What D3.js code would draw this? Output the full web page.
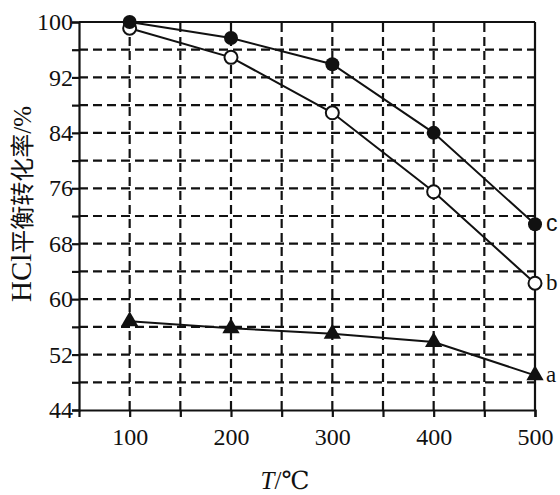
<!DOCTYPE html>
<html><head><meta charset="utf-8">
<script src="https://cdn.jsdelivr.net/npm/d3@7"></script>
<style>body{margin:0;background:#fff}svg{display:block}</style>
</head><body><svg id="c" width="560" height="495"></svg>
<script>
const temps = [100, 200, 300, 400, 500];
const seriesA = [56.8, 55.8, 55.0, 53.8, 49.0];
const seriesB = [99.1, 94.9, 86.9, 75.5, 62.3];
const seriesC = [100.0, 97.7, 93.9, 84.0, 70.8];
const seriesNames = ["a", "b", "c"];
const yTickLabels = [44, 52, 60, 68, 76, 84, 92, 100];
const yGrid = [48, 52, 56, 60, 64, 68, 72, 76, 80, 84, 88, 92, 96];
const xTickLabels = [100, 200, 300, 400, 500];
const xGrid = [100, 150, 200, 250, 300, 350, 400, 450];
const yTitleParts = ["HCl", "平衡转化率", "/%"];

const svg = d3.select("#c");
const L = 79, R = 535, T = 22, B = 410;
const x = d3.scaleLinear().domain([50, 500]).range([L, R]);
const y = d3.scaleLinear().domain([44, 100]).range([B, T]);
const serif = "'Liberation Serif','DejaVu Serif',serif";

// grid
svg.append("g").selectAll("line").data(yGrid).join("line")
  .attr("x1", L).attr("x2", R).attr("y1", d => y(d)).attr("y2", d => y(d))
  .attr("stroke", "#111").attr("stroke-width", 2.2).attr("stroke-dasharray", "9,5");
svg.append("g").selectAll("line").data(xGrid).join("line")
  .attr("y1", B).attr("y2", T).attr("x1", d => x(d)).attr("x2", d => x(d))
  .attr("stroke", "#111").attr("stroke-width", 2.2).attr("stroke-dasharray", "9,5");

// axes
const xAxis = d3.axisBottom(x).tickValues([...xGrid, 500]).tickSize(7)
  .tickFormat(d => xTickLabels.includes(d) ? d : "");
const gx = svg.append("g").attr("transform", `translate(0,${B})`).call(xAxis);
gx.select(".domain").attr("stroke-width", 2.2).attr("stroke", "#111");
gx.selectAll(".tick line").attr("stroke-width", 2.2).attr("stroke", "#111");
gx.selectAll("text").attr("font-family", serif).attr("font-size", 24).attr("fill", "#111").attr("dy", "1.05em");

const yAxis = d3.axisLeft(y).tickValues([44, ...yGrid, 100]).tickSize(7)
  .tickFormat(d => yTickLabels.includes(d) ? d : "");
const gy = svg.append("g").attr("transform", `translate(${L},0)`).call(yAxis);
gy.select(".domain").attr("stroke-width", 2.2).attr("stroke", "#111");
gy.selectAll(".tick line").attr("stroke-width", 2.2).attr("stroke", "#111");
gy.selectAll("text").attr("font-family", serif).attr("font-size", 24).attr("fill", "#111").attr("x", -6);

// top and right border
svg.append("line").attr("x1", L).attr("x2", R).attr("y1", T).attr("y2", T).attr("stroke", "#111").attr("stroke-width", 2.2);
svg.append("line").attr("x1", R).attr("x2", R).attr("y1", T).attr("y2", B).attr("stroke", "#111").attr("stroke-width", 2.2);

// lines
const line = d3.line().x((d, i) => x(temps[i])).y(d => y(d));
[seriesA, seriesB, seriesC].forEach(s => {
  svg.append("path").attr("d", line(s)).attr("fill", "none").attr("stroke", "#111").attr("stroke-width", 2);
});

// markers
svg.append("g").selectAll("path").data(seriesA).join("path")
  .attr("d", d3.symbol().type(d3.symbolTriangle).size(130))
  .attr("transform", (d, i) => `translate(${x(temps[i])},${y(d)})`).attr("fill", "#111");
svg.append("g").selectAll("circle").data(seriesB).join("circle")
  .attr("cx", (d, i) => x(temps[i])).attr("cy", d => y(d)).attr("r", 6.5)
  .attr("fill", "#fff").attr("stroke", "#111").attr("stroke-width", 2);
svg.append("g").selectAll("circle").data(seriesC).join("circle")
  .attr("cx", (d, i) => x(temps[i])).attr("cy", d => y(d)).attr("r", 7)
  .attr("fill", "#111");

// series labels
[seriesA, seriesB, seriesC].forEach((s, k) => {
  svg.append("text").attr("x", x(500) + 11).attr("y", y(s[s.length - 1]) + 7)
    .attr("font-family", k === 2 ? "'Liberation Sans',Arial,sans-serif" : serif)
    .attr("font-size", 23).attr("fill", "#111")
    .text(seriesNames[k]);
});

// axis titles
const xt = svg.append("text").attr("x", 285).attr("y", 489).attr("text-anchor", "middle")
  .attr("font-family", serif).attr("font-size", 25).attr("fill", "#111");
xt.append("tspan").attr("font-style", "italic").text("T");
xt.append("tspan").text("/℃");

const yt = svg.append("text").attr("transform", "translate(31,204) rotate(-90)").attr("text-anchor", "middle")
  .attr("font-family", "'Liberation Serif','Noto Sans CJK SC',serif").attr("fill", "#111");
yt.append("tspan").attr("font-size", 29).text(yTitleParts[0]);
yt.append("tspan").attr("font-size", 24).attr("font-family", "'Noto Sans CJK SC',sans-serif").text(yTitleParts[1]);
yt.append("tspan").attr("font-size", 25).text(yTitleParts[2]);
</script></body></html>
